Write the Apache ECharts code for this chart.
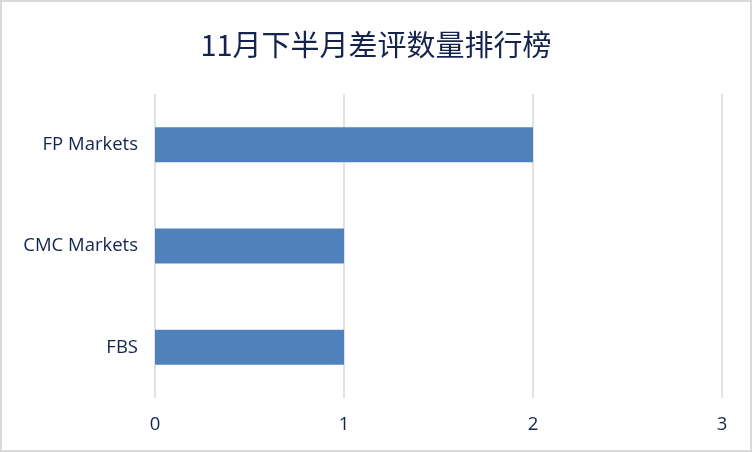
<!DOCTYPE html>
<html>
<head>
    <meta charset="UTF-8">
    <title>差评数量排行榜</title>
    <script src="https://cdn.jsdelivr.net/npm/echarts@6/dist/echarts.min.js"></script>
    <style>
        body { margin: 0; }
        #main { width: 752px; height: 452px; box-sizing: border-box; border: 2px solid #d9d9d9; background: #fff; }
    </style>
</head>
<body>
<div id="main"></div>
<script>
    var brokers = ['FBS', 'CMC Markets', 'FP Markets'];
    var badReviews = [1, 1, 2];
    var xTicks = [0, 1, 2, 3];

    var myChart = echarts.init(document.getElementById('main'));
    var textColor = '#14244f';

    var option = {
        title: {
            text: '11月下半月差评数量排行榜',
            left: 'center',
            top: 23,
            textStyle: {
                fontFamily: 'Noto Sans CJK SC',
                fontWeight: 'normal',
                fontSize: 29,
                color: textColor
            }
        },
        grid: {
            left: 153,
            right: 28,
            top: 92,
            bottom: 52
        },
        xAxis: {
            type: 'value',
            min: xTicks[0],
            max: xTicks[xTicks.length - 1],
            interval: 1,
            axisLine: { show: false },
            axisTick: { show: false },
            splitLine: { lineStyle: { color: '#d9d9d9', width: 1.5 } },
            axisLabel: {
                margin: 17,
                fontFamily: 'Open Sans',
                fontSize: 18.5,
                color: textColor
            }
        },
        yAxis: {
            type: 'category',
            data: brokers,
            axisLine: { show: false },
            axisTick: { show: false },
            axisLabel: {
                margin: 17,
                fontFamily: 'Open Sans',
                fontSize: 18.5,
                color: textColor
            }
        },
        series: [{
            type: 'bar',
            data: badReviews,
            barWidth: 35,
            itemStyle: { color: '#4f81bd' }
        }]
    };

    myChart.setOption(option);
</script>
</body>
</html>
